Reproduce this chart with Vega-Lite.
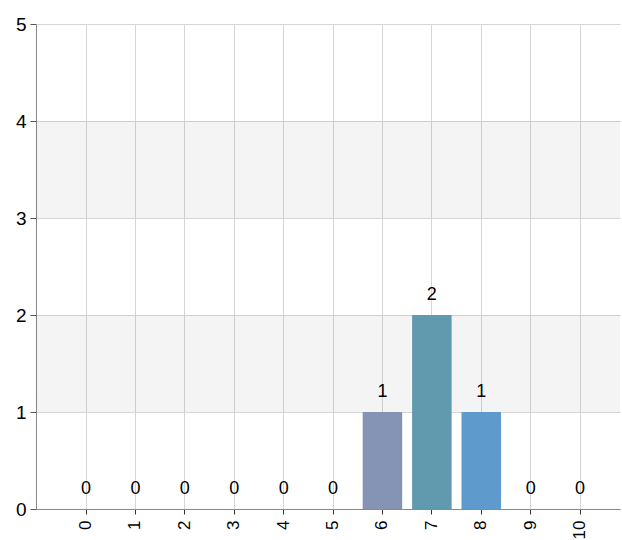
{
  "$schema": "https://vega.github.io/schema/vega-lite/v6.json",
  "width": 584,
  "height": 485,
  "autosize": "none",
  "padding": {"left": 36, "top": 24, "right": 2, "bottom": 31},
  "background": "white",
  "config": {"view": {"stroke": null}, "font": "Liberation Sans"},
  "datasets": {
    "counts": [
      {"k": 0, "n": 0}, {"k": 1, "n": 0}, {"k": 2, "n": 0}, {"k": 3, "n": 0},
      {"k": 4, "n": 0}, {"k": 5, "n": 0}, {"k": 6, "n": 1}, {"k": 7, "n": 2},
      {"k": 8, "n": 1}, {"k": 9, "n": 0}, {"k": 10, "n": 0}
    ],
    "bands": [{"lo": 1, "hi": 2}, {"lo": 3, "hi": 4}]
  },
  "layer": [
    {
      "data": {"name": "bands"},
      "mark": {"type": "rect", "color": "#000", "opacity": 0.043},
      "encoding": {
        "y": {"field": "lo", "type": "quantitative", "scale": {"domain": [0, 5], "nice": false}},
        "y2": {"field": "hi"}
      }
    },
    {
      "data": {"name": "counts"},
      "mark": {"type": "bar", "opacity": 1},
      "encoding": {
        "x": {
          "field": "k", "type": "ordinal", "title": null,
          "scale": {"paddingInner": 0.2, "paddingOuter": 0.51, "align": 0.6},
          "axis": {
            "labelAngle": -90, "labelFontSize": 17, "labelColor": "#000",
            "grid": true, "gridColor": "#d6d6d6", "gridWidth": 1,
            "domainColor": "#888", "tickColor": "#333", "tickSize": 5,
            "labelPadding": 6, "bandPosition": 0.5
          }
        },
        "y": {
          "field": "n", "type": "quantitative", "title": null,
          "scale": {"domain": [0, 5], "nice": false},
          "axis": {
            "values": [0, 1, 2, 3, 4, 5], "format": "d",
            "labelFontSize": 19, "labelColor": "#000",
            "grid": true, "gridColor": "#d6d6d6",
            "domainColor": "#888", "tickColor": "#555", "tickSize": 6,
            "labelPadding": 4
          }
        },
        "color": {
          "field": "k", "type": "ordinal", "legend": null,
          "scale": {"domain": [6, 7, 8], "range": ["#8593b4", "#619aaf", "#5e9acb"]}
        }
      }
    },
    {
      "data": {"name": "counts"},
      "mark": {"type": "text", "fontSize": 18, "color": "#000", "baseline": "alphabetic", "dy": -15},
      "encoding": {
        "x": {"field": "k", "type": "ordinal"},
        "y": {"field": "n", "type": "quantitative"},
        "text": {"field": "n", "type": "quantitative"}
      }
    }
  ]
}
